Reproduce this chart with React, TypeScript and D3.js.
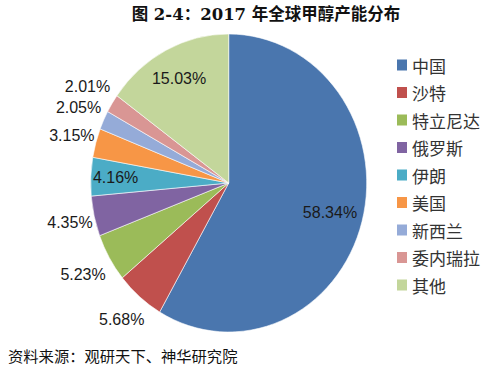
import React from "react";
import * as d3 from "d3";

const title = "图 2-4：2017 年全球甲醇产能分布";
const source = "资料来源：观研天下、神华研究院";
const countries = ["中国", "沙特", "特立尼达", "俄罗斯", "伊朗", "美国", "新西兰", "委内瑞拉", "其他"];
const shares = [58.34, 5.68, 5.23, 4.35, 4.16, 3.15, 2.05, 2.01, 15.03];
const colors = ["#4a76ae", "#c0504d", "#9bbb59", "#8064a2", "#4bacc6", "#f79646", "#95abd8", "#d99694", "#c3d69b"];
// label distance from centre, as a share of the radius (inside vs outside like Excel best fit)
const labelRadius = [0.76, 1.2, 1.22, 1.18, 0.82, 1.18, 1.2, 1.21, 0.79];

const App = () => {
  const width = 492;
  const height = 368;
  const cx = 228.7;
  const cy = 183;
  const r = 149;
  const sx = 138 / 149; // the source picture is squeezed a little horizontally

  const pie = d3.pie<number>().sort(null).value(d => d);
  const arcs = pie(shares);
  const arc = d3.arc<d3.PieArcDatum<number>>().innerRadius(0).outerRadius(r);

  const legendY = d3.scalePoint<string>().domain(countries).range([65, 285]);

  return (
    <svg width={width} height={height} style={{ position: "absolute", left: 0, top: 0, background: "#fff" }}>
      <text x={266} y={20} textAnchor="middle" fontFamily="'DejaVu Serif', 'Noto Sans CJK SC', serif"
        fontWeight="bold" fontSize={16.5} fill="#111">{title}</text>

      <g transform={`translate(${cx},${cy}) scale(${sx},1)`}>
        {arcs.map((a, i) => (
          <path key={i} d={arc(a) || ""} fill={colors[i]} stroke="#fff" strokeWidth={0.6} />
        ))}
      </g>

      {arcs.map((a, i) => {
        const mid = (a.startAngle + a.endAngle) / 2;
        const k = labelRadius[i] * r;
        const x = cx + Math.sin(mid) * k * sx;
        const y = cy - Math.cos(mid) * k;
        return (
          <text key={i} x={x} y={y} textAnchor="middle" dominantBaseline="central"
            fontFamily="'Liberation Sans', Arial, sans-serif" fontSize={16} fill="#1a1a1a">
            {d3.format(".2f")(shares[i])}%
          </text>
        );
      })}

      {countries.map(c => (
        <g key={c} transform={`translate(397,${legendY(c)})`}>
          <rect x={0} y={-5.5} width={10} height={11} fill={colors[countries.indexOf(c)]} />
          <text x={15} y={0} dominantBaseline="central" fontFamily="'Noto Sans CJK SC', sans-serif"
            fontSize={17} fill="#333">{c}</text>
        </g>
      ))}

      <text x={8} y={355} dominantBaseline="central" fontFamily="'Noto Sans CJK SC', sans-serif"
        fontSize={15.3} fill="#111">{source}</text>
    </svg>
  );
};

export default App;
